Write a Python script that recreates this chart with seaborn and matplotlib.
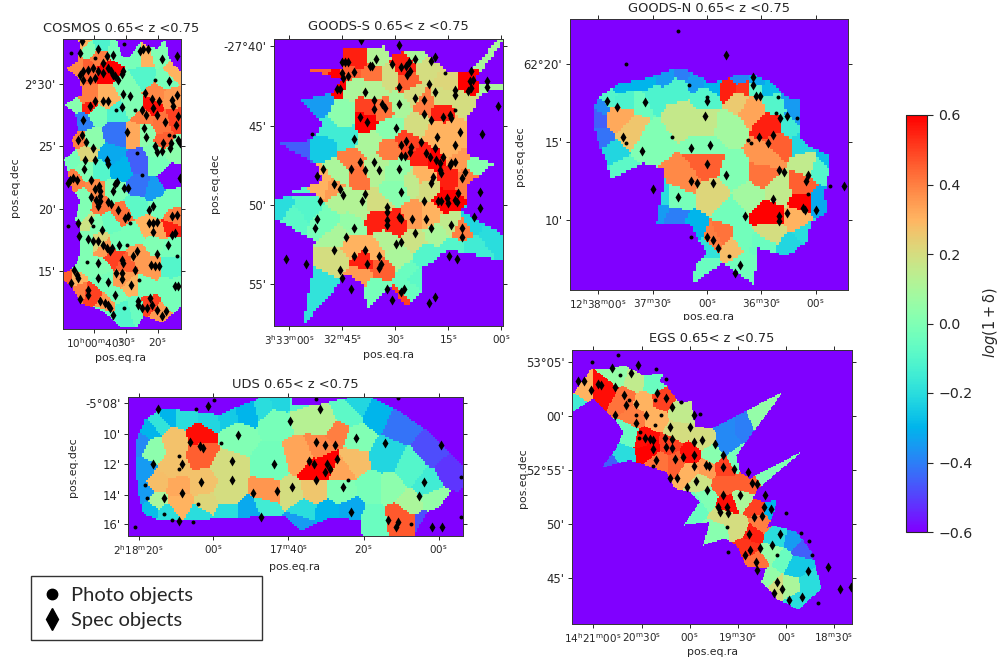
import numpy as np
import pandas as pd
import seaborn as sns
import matplotlib
matplotlib.use("Agg")
import matplotlib.pyplot as plt
from matplotlib.cm import ScalarMappable
from matplotlib.colors import Normalize
from matplotlib.lines import Line2D
from matplotlib.patches import Rectangle
from matplotlib.path import Path

# cells = (x, y, log(1+delta)), outline = edge of the covered field, outside is -0.6

cosmos_outline = [(235,118),(350,118),(365,170),(385,175),(405,150),(420,125),(470,150),(495,118),(505,165),(520,195),(543,215),(543,920),(500,960),(490,970),(430,950),(410,985),(365,985),(340,960),(300,930),(240,910),(215,860),(192,845),(192,820),(225,800),(240,760),(240,680),(225,660),(240,600),(215,570),(205,520),(192,480),(225,450),(215,420),(235,390),(225,340),(192,315),(245,285),(240,240),(200,205),(235,185),(240,140)]
cosmos_cells = [(320,210,.6),(260,210,.45),(300,170,.4),(235,210,.38),(270,145,0),(250,125,.3),(300,135,-.12),(350,150,-.02),(432,175,.3),(420,175,-.02),(430,230,-.1),(385,260,0),(480,165,0),(525,215,.3),(500,240,-.02),(265,295,.4),(320,300,.3),(270,320,.55),(220,320,.02),(350,340,-.12),(350,400,-.42),(245,365,-.4),(290,340,-.02),(400,320,0),(455,320,.58),(430,350,.4),(470,285,.38),(515,295,.35),(525,360,.5),(490,370,.42),(430,400,.03),(410,400,.32),(495,430,.45),(470,460,0),(515,445,.03),(330,470,-.32),(270,420,.03),(240,420,.4),(260,460,.22),(215,480,-.02),(300,510,-.1),(220,540,.4),(255,510,0),(420,490,-.45),(420,560,-.42),(460,570,-.35),(470,490,-.02),(510,535,-.6),(360,510,-.3),(340,570,0),(290,570,.38),(300,610,.42),(255,600,0),(240,650,0),(410,620,-.08),(480,620,-.02),(520,600,-.02),(365,645,.42),(330,670,-.05),(440,680,.3),(510,690,.55),(480,700,.33),(525,650,.4),(400,700,-.02),(290,680,0),(260,670,.18),(320,740,.35),(345,770,.5),(380,790,.45),(410,770,.35),(300,720,.22),(260,720,0),(240,800,0),(225,830,.3),(205,832,.45),(300,810,0),(350,730,-.02),(510,810,-.1),(470,730,0),(510,740,-.02),(460,810,.35),(370,840,.35),(390,860,.3),(310,840,-.02),(440,860,-.02),(500,860,-.02),(270,885,.5),(240,880,.4),(350,890,-.02),(370,930,-.1),(405,920,-.05),(320,915,.35),(450,915,.5),(480,940,.35),(310,945,-.05),(520,900,-.02),(530,860,-.02)]
cosmos_spec = [(245,125),(293,147),(338,167),(240,160),(420,155),(445,147),(428,148),(485,178),(532,170),(320,170),(310,190),(280,205),(265,210),(250,215),(240,225),(295,215),(325,205),(333,215),(345,230),(310,220),(285,235),(250,240),(370,215),(365,222),(340,225),(355,240),(270,240),(506,245),(370,283),(390,290),(434,280),(457,298),(477,305),(460,325),(438,345),(470,345),(520,320),(515,300),(530,285),(533,350),(527,375),(495,368),(285,305),(310,305),(325,305),(270,318),(250,360),(365,323),(425,330),(380,397),(432,385),(437,412),(245,407),(235,422),(258,428),(490,430),(512,430),(510,445),(465,440),(485,455),(472,458),(535,420),(540,430),(280,445),(255,480),(285,480),(320,480),(325,492),(252,508),(220,535),(210,540),(230,540),(205,550),(272,542),(297,560),(352,547),(345,552),(285,567),(300,575),(300,590),(372,565),(385,565),(338,573),(272,592),(288,600),(300,605),(295,620),(325,607),(333,612),(355,632),(460,620),(447,630),(375,655),(385,650),(272,660),(460,670),(447,670),(472,668),(458,697),(305,690),(265,717),(295,725),(310,735),(320,745),(335,745),(330,755),(358,735),(412,755),(400,770),(367,780),(370,790),(472,762),(452,795),(465,800),(478,800),(405,810),(222,812),(232,825),(235,835),(212,850),(293,790),(293,835),(325,848),(347,820),(365,820),(367,838),(392,855),(265,870),(265,885),(240,897),(345,885),(300,905),(315,910),(325,915),(330,925),(338,945),(415,905),(415,915),(425,925),(440,925),(450,895),(455,915),(470,930),(485,950),(497,935),(525,860),(535,860),(505,735),(540,535),(530,645),(515,648),(525,700),(515,705),(235,670),(238,710),(280,725)]
cosmos_photo = [(373,133),(212,160),(285,175),(465,240),(347,330),(405,330),(412,460),(425,525),(508,405),(522,410),(205,678),(280,678),(380,735),(260,788),(417,842),(372,925),(390,670),(530,770)]

goodss_outline = [(865,88),(880,88),(880,95),(800,205),(810,225),(880,225),(880,240),(840,245),(815,255),(800,270),(805,280),(770,320),(770,430),(790,440),(855,460),(790,510),(770,530),(770,590),(750,600),(880,675),(880,750),(800,735),(718,720),(690,735),(680,750),(640,770),(640,790),(630,850),(595,888),(580,880),(545,830),(470,895),(465,825),(430,800),(400,790),(380,830),(280,945),(305,800),(315,690),(192,628),(192,565),(330,555),(245,545),(335,515),(330,470),(210,400),(300,390),(345,340),(270,275),(370,250),(400,210),(285,178),(400,175),(405,115),(460,115),(525,110),(540,140),(600,120),(640,120),(665,150),(720,190),(780,190)]
goodss_cells = [(830,140,.1),(840,235,.1),(775,220,.6),(710,210,.22),(650,180,.2),(620,130,.1),(580,170,.55),(590,215,.45),(500,140,.12),(540,200,.2),(450,145,.55),(490,195,.42),(420,200,.45),(320,185,.45),(390,215,.6),(430,225,.1),(490,240,.12),(610,260,.2),(640,280,.4),(700,300,.55),(700,265,.2),(745,270,.2),(770,290,.2),(480,295,.5),(470,330,.6),(520,300,.42),(570,285,.1),(400,320,.03),(320,285,-.35),(350,360,-.15),(410,380,-.15),(340,400,-.25),(260,410,-.45),(480,400,.1),(540,350,.02),(620,340,.2),(740,360,.3),(680,370,.3),(720,420,.3),(590,400,.5),(540,420,.4),(680,450,.6),(640,440,.55),(740,450,.35),(810,465,.02),(770,510,.4),(720,500,.55),(640,500,.3),(712,575,.6),(650,530,.2),(440,490,.42),(430,450,.4),(390,490,.1),(500,470,.12),(560,480,.05),(560,540,.02),(610,520,.15),(370,530,.35),(340,520,.3),(400,570,.12),(290,590,-.1),(215,595,-.2),(250,620,-.08),(350,640,-.02),(430,640,.05),(500,590,.2),(500,625,.55),(560,640,.55),(610,620,.35),(660,620,.3),(720,640,.15),(760,660,.4),(790,640,-.22),(840,680,-.2),(800,710,-.15),(680,670,.1),(610,690,.18),(530,700,.12),(450,600,.12),(380,680,.1),(430,710,.3),(380,750,.2),(460,755,.55),(450,790,.35),(520,770,.45),(500,720,.3),(560,740,.1),(600,790,-.05),(730,720,-.1),(650,740,-.1),(340,830,-.18),(300,850,-.18),(505,840,-.02),(560,860,.5),(590,830,-.05),(610,800,-.08)]
goodss_spec = [(567,105),(453,92),(675,142),(617,148),(498,148),(665,155),(548,163),(405,158),(397,158),(415,158),(485,170),(480,170),(575,172),(597,158),(590,170),(592,195),(600,185),(432,188),(397,190),(400,205),(415,198),(785,185),(790,210),(780,215),(785,235),(775,245),(833,215),(833,232),(658,222),(567,232),(735,240),(675,248),(466,248),(380,238),(390,238),(735,255),(617,265),(643,272),(491,272),(516,282),(524,295),(567,282),(491,297),(866,290),(643,313),(665,330),(700,322),(720,315),(725,323),(450,322),(472,337),(558,355),(750,365),(817,372),(682,380),(433,388),(575,405),(590,392),(575,438),(585,438),(605,410),(600,425),(633,397),(735,405),(650,430),(660,440),(675,415),(680,450),(690,460),(700,440),(690,480),(720,465),(725,460),(735,455),(695,490),(670,500),(665,520),(767,487),(758,505),(449,455),(491,455),(423,478),(465,480),(508,480),(567,478),(340,478),(322,497),(373,521),(390,538),(398,555),(466,553),(456,572),(575,547),(643,572),(331,572),(685,572),(695,572),(712,565),(715,580),(735,570),(745,550),(742,575),(810,547),(810,595),(532,590),(532,605),(792,620),(568,622),(575,628),(532,630),(532,645),(607,628),(650,628),(322,628),(315,655),(433,655),(407,680),(617,670),(665,655),(725,645),(758,655),(758,680),(575,695),(558,702),(373,720),(466,720),(433,738),(229,745),(289,762),(508,738),(718,738),(742,745),(472,762),(512,762),(508,772),(390,778),(397,803),(423,837),(532,837),(584,835),(575,845),(548,868),(675,860),(658,878)]
goodss_photo = [(305,372),(707,190),(735,300)]

goodsn_outline = [(250,340),(260,300),(330,250),(400,240),(500,205),(540,215),(600,250),(650,240),(680,225),(730,225),(780,245),(830,290),(870,300),(870,410),(900,440),(960,470),(960,500),(945,580),(950,640),(900,670),(895,725),(830,770),(745,745),(735,855),(640,790),(545,855),(560,790),(590,760),(540,670),(440,670),(460,560),(465,510),(400,490),(300,540),(295,490),(270,440),(250,370)]
goodsn_cells = [(330,350,.32),(370,390,.26),(300,290,-.1),(420,420,.0),(400,300,-.05),(590,370,.16),(520,350,.16),(650,380,.08),(590,440,.0),(690,300,.25),(700,265,.52),(655,265,.55),(725,320,.33),(790,375,.55),(810,430,.45),(770,470,.36),(760,525,.42),(590,490,.45),(520,540,.38),(610,590,.22),(680,520,.0),(660,640,-.03),(690,720,-.03),(720,590,.08),(810,570,.15),(880,610,.6),(875,560,.45),(895,490,.15),(870,650,.3),(775,645,.6),(780,700,.2),(920,610,-.32),(640,705,.42),(610,720,.4),(670,735,.28),(585,810,-.05),(710,800,-.03),(500,590,-.02),
                (270,320,-.38),(255,350,-.45),(262,420,-.42),(330,262,-.3),(400,252,-.3),(470,225,-.35),(520,215,-.4),(560,240,-.35),(610,255,-.3),(690,235,-.38),(740,240,-.32),(790,260,-.28),(840,300,-.35),(866,350,-.35),(880,430,-.22),(950,480,-.28),(340,300,-.12),(420,290,-.12),(500,265,-.12),(590,290,-.1),(730,265,-.08),(800,310,-.1),(840,380,-.15),(295,470,-.22),(280,520,-.15),(320,520,-.08),(490,660,-.4),(450,640,-.35),(450,590,-.2),(550,690,-.3),(585,745,-.18),(900,700,-.2),(840,750,-.22),(760,735,-.05),(930,500,-.1)]
goodsn_spec = [(650,167),(731,233),(731,257),(292,305),(323,323),(405,308),(592,305),(586,348),(740,290),(750,290),(812,356),(831,348),(789,405),(749,412),(774,430),(341,412),(398,453),(544,444),(601,436),(592,492),(650,526),(544,544),(562,550),(610,550),(807,510),(822,517),(895,526),(888,544),(789,598),(1002,559),(431,568),(504,592),(920,631),(880,625),(885,632),(831,640),(707,649),(807,650),(807,665),(592,713),(610,722),(626,745),(692,795),(675,819)]
goodsn_photo = [(504,95),(350,193),(538,257),(592,291),(805,291),(798,340),(862,356),(486,411),(350,429),(716,420),(725,429),(962,559),(895,583),(544,713),(659,770)]

uds_outline = [(228,300),(225,220),(255,150),(310,115),(480,135),(510,120),(590,90),(600,82),(695,82),(700,105),(770,105),(870,82),(930,82),(1010,120),(1110,190),(1208,290),(1208,350),(1150,405),(1100,425),(1060,497),(905,497),(900,450),(860,445),(800,445),(720,482),(680,440),(600,435),(540,445),(480,445),(300,450),(250,430),(235,370)]
uds_cells = [(420,195,.58),(425,250,.45),(345,220,.27),(340,290,.27),(350,350,.32),(295,340,.28),(290,390,.1),(360,400,.3),(430,340,.27),(500,290,.2),(500,370,.2),(440,400,.22),(280,240,.03),(530,200,.0),(650,150,-.02),(730,130,.13),(790,160,.13),(780,235,.38),(800,280,.6),(760,300,.6),(830,190,.4),(720,260,.33),(840,300,.33),(880,270,.28),(640,280,-.03),(630,370,.36),(690,370,.2),(760,360,.26),(840,360,.0),(890,210,.0),(860,130,-.08),(1020,440,.46),(1050,400,.1),(990,350,.03),(935,350,-.02),(1120,390,.05),(1040,460,.46),(975,260,-.22),(1050,300,-.1),(1100,340,-.15),(935,450,-.05),
             (245,300,-.35),(240,220,-.38),(265,175,-.3),(290,155,-.18),(320,130,-.3),(380,135,-.2),(450,145,-.22),(500,135,-.25),(560,120,-.3),(610,105,-.2),(660,95,-.22),(720,100,-.1),(890,100,-.22),(950,130,-.3),(1020,160,-.42),(1120,240,-.48),(1170,300,-.52),(255,370,-.35),(270,420,-.28),(320,430,-.2),(420,435,-.2),(500,430,-.2),(570,430,-.32),(620,410,-.15),(720,455,-.35),(730,425,-.2),(800,430,-.3),(870,425,-.32),(1090,460,-.48),(1160,420,-.6)]
uds_spec = [(295,117),(445,110),(778,117),(690,155),(533,195),(887,203),(389,217),(768,217),(793,225),(823,225),(975,218),(1143,226),(420,228),(428,235),(280,281),(366,281),(515,273),(641,281),(745,273),(760,281),(830,266),(800,281),(808,297),(793,305),(768,329),(515,329),(422,337),(1091,337),(848,352),(366,369),(578,369),(651,362),(697,352),(311,385),(1076,377),(872,425),(604,440),(983,448),(1013,456),(1006,470),(1116,470),(1146,470),(358,452)]
uds_photo = [(768,87),(462,90),(407,117),(1013,84),(484,218),(358,258),(358,298),(255,344),(262,384),(414,400),(311,432),(336,448),(400,455),(224,470),(864,329),(1053,462),(1202,322),(1202,440)]

egs_outline = [(187,210),(245,130),(300,130),(345,120),(400,150),(460,145),(450,170),(470,180),(510,235),(545,225),(555,305),(607,310),(820,198),(680,390),(690,440),(720,460),(878,378),(745,490),(730,520),(760,530),(800,525),(790,570),(770,610),(790,600),(860,620),(905,680),(935,790),(865,855),(830,835),(805,825),(755,770),(770,730),(710,725),(680,660),(645,640),(580,660),(600,590),(522,600),(570,530),(540,500),(495,490),(470,440),(360,405),(275,428),(320,370),(340,320),(320,290),(250,220),(187,260)]
egs_cells = [(190,230,-.15),(215,190,.3),(290,190,.58),(320,150,.05),(375,165,.15),(430,170,-.05),(345,220,.42),(400,235,.3),(460,225,.5),(510,260,.15),(440,280,.3),(380,270,.4),(350,330,-.05),(330,385,-.2),(300,410,-.45),(420,370,.6),(410,345,.58),(480,360,.5),(540,390,.58),(500,410,.45),(450,410,.42),(500,320,.2),(580,340,.2),(650,300,-.38),(700,300,-.4),(745,280,.05),(650,360,-.38),(610,390,.02),(640,425,.5),(680,400,-.02),(640,480,.45),(590,430,.35),(540,440,.3),(570,470,.18),(560,540,-.05),(590,520,0),(650,540,.58),(640,570,.2),(700,520,.1),(740,550,.5),(710,480,.45),(770,440,0),(790,555,-.3),(750,590,.4),(725,625,.55),(690,610,.2),(620,620,.02),(800,640,-.2),(850,650,-.35),(710,665,.52),(740,715,.42),(790,680,.05),(770,760,.05),(860,720,-.25),(900,780,-.2),(840,790,.1),(860,830,-.2),(800,790,.2),(870,670,-.45),(820,700,-.05)]
egs_spec = [(386,120),(308,128),(365,143),(205,168),(222,168),(265,175),(275,180),(315,185),(245,195),(342,208),(441,202),(470,218),(348,240),(380,235),(487,245),(409,270),(315,270),(552,270),(380,294),(481,305),(542,305),(405,338),(430,345),(420,340),(466,338),(487,340),(470,365),(487,368),(430,370),(552,350),(577,344),(614,356),(640,390),(552,388),(520,395),(497,400),(440,405),(552,422),(588,418),(598,422),(640,425),(671,430),(481,458),(503,458),(714,440),(560,468),(725,472),(740,475),(532,484),(592,495),(640,510),(689,510),(765,510),(625,545),(630,560),(650,545),(653,565),(762,545),(783,553),(732,576),(755,572),(811,628),(718,628),(787,661),(721,675),(750,668),(704,690),(739,712),(740,736),(895,737),(955,725),(800,770),(793,803),(815,793),(838,825),(877,815),(991,793),(1023,787)]
egs_photo = [(325,88),(248,110),(440,130),(470,160),(515,230),(436,225),(358,225),(380,270),(455,270),(570,265),(436,298),(392,320),(388,338),(330,150),(827,565),(650,605),(800,690),(654,680),(872,623),(898,647),(905,690),(923,833),(431,422)]

# tick positions and labels per panel
cosmos_xt = [283,378,473]
cosmos_xl = [r"$10^{h}00^{m}40^{s}$", r"$30^{s}$", r"$20^{s}$"]
cosmos_yt = [253,440,628,815]
cosmos_yl = ["2°30'", "25'", "20'", "15'"]
goodss_xt = [238,397,556,716,875]
goodss_xl = [r"$3^{h}33^{m}00^{s}$", r"$32^{m}45^{s}$", r"$30^{s}$", r"$15^{s}$", r"$00^{s}$"]
goodss_yt = [110,348,585,822]
goodss_yl = ["-27°40'", "45'", "50'", "55'"]
goodsn_xt = [265,430,592,755,918]
goodsn_xl = [r"$12^{h}38^{m}00^{s}$", r"$37^{m}30^{s}$", r"$00^{s}$", r"$36^{m}30^{s}$", r"$00^{s}$"]
goodsn_yt = [192,426,660]
goodsn_yl = ["62°20'", "15'", "10'"]
uds_xt = [236,460,685,910,1135]
uds_xl = [r"$2^{h}18^{m}20^{s}$", r"$00^{s}$", r"$17^{m}40^{s}$", r"$20^{s}$", r"$00^{s}$"]
uds_yt = [100,192,283,374,462]
uds_yl = ["-5°08'", "10'", "12'", "14'", "16'"]
egs_xt = [250,397,540,684,828,972]
egs_xl = [r"$14^{h}21^{m}00^{s}$", r"$20^{m}30^{s}$", r"$00^{s}$", r"$19^{m}30^{s}$", r"$00^{s}$", r"$18^{m}30^{s}$"]
egs_yt = [110,272,434,596,758]
egs_yl = ["53°05'", "00'", "52°55'", "50'", "45'"]

cbar_ticks = [-0.6,-0.4,-0.2,0.0,0.2,0.4,0.6]

W, H = 1002, 664
sns.set_style("ticks")
plt.rcParams["font.family"] = ["DejaVu Sans"]
plt.rcParams["mathtext.default"] = "regular"
plt.rcParams["text.color"] = "#262626"
plt.rcParams["axes.labelcolor"] = "#262626"
plt.rcParams["xtick.labelcolor"] = "#262626"
plt.rcParams["ytick.labelcolor"] = "#262626"

fig = plt.figure(figsize=(W / 100, H / 100), dpi=100)


def add_panel(name, box, lims, cell, outline, cells, spec, photo, xt, xl, yt, yl, title_xy, xlab_xy, ylab_xy):
    left, top, right, bottom = box
    ax = fig.add_axes([left / W, 1 - bottom / H, (right - left) / W, (bottom - top) / H])
    x0, x1, y0, y1 = lims
    nx = int(round((x1 - x0) / cell))
    ny = int(round((y1 - y0) / cell))
    sx = nx / (x1 - x0)
    sy = ny / (y1 - y0)

    # nearest cell wins inside the field, everything else is empty
    gx, gy = np.meshgrid(x0 + (np.arange(nx) + 0.5) / sx, y0 + (np.arange(ny) + 0.5) / sy)
    c = np.array(cells)
    d = (gx[..., None] - c[:, 0]) ** 2 + (gy[..., None] - c[:, 1]) ** 2
    vals = c[:, 2][d.argmin(axis=2)]
    inside = Path(outline).contains_points(np.c_[gx.ravel(), gy.ravel()]).reshape(gx.shape)
    grid = np.where(inside, vals, -0.6)

    sns.heatmap(grid, cmap="rainbow", vmin=-0.6, vmax=0.6, cbar=False, xticklabels=False, yticklabels=False, ax=ax)

    sp = pd.DataFrame(spec, columns=["x", "y"])
    ph = pd.DataFrame(photo, columns=["x", "y"])
    sns.scatterplot(x=(sp["x"] - x0) * sx, y=(sp["y"] - y0) * sy, marker="d", color="black", s=26, linewidth=0, ax=ax)
    sns.scatterplot(x=(ph["x"] - x0) * sx, y=(ph["y"] - y0) * sy, marker="o", color="black", s=8, linewidth=0, ax=ax)

    ax.set_xlim(0, nx)
    ax.set_ylim(ny, 0)
    ax.set_xticks([(t - x0) * sx for t in xt], xl)
    ax.set_yticks([(t - y0) * sy for t in yt], yl, rotation=0)
    ax.tick_params(axis="x", labelsize=7.5, length=3, width=0.7, top=True, direction="out", pad=2.5)
    ax.tick_params(axis="y", labelsize=8.4, length=3, width=0.7, right=True, direction="out", pad=2.5)
    for s in ax.spines.values():
        s.set_visible(True)
        s.set_linewidth(0.7)
        s.set_color("#333333")

    def frac(p):
        return (p[0] - left) / (right - left), (bottom - p[1]) / (bottom - top)

    # scatterplot hides the labels when the ticks had none yet, so switch them back on
    ax.set_xlabel("pos.eq.ra", fontsize=7.8, visible=True)
    ax.set_ylabel("pos.eq.dec", fontsize=7.8, visible=True)
    ax.xaxis.set_label_coords(*frac(xlab_xy))
    ax.yaxis.set_label_coords(*frac(ylab_xy))
    ax.xaxis.label.set_verticalalignment("center")
    ax.yaxis.label.set_verticalalignment("center")
    fig.text(title_xy[0] / W, 1 - title_xy[1] / H, name + " 0.65< z <0.75", fontsize=9.35, ha="center", va="center")
    return ax


add_panel("COSMOS", (63.5, 39, 181, 329), (190, 543, 118, 988), 5, cosmos_outline, cosmos_cells, cosmos_spec, cosmos_photo,
          cosmos_xt, cosmos_xl, cosmos_yt, cosmos_yl, (121, 28), (121, 358), (15, 187))
add_panel("GOODS-S", (274, 39, 503, 326), (192, 880, 88, 947), 9, goodss_outline, goodss_cells, goodss_spec, goodss_photo,
          goodss_xt, goodss_xl, goodss_yt, goodss_yl, (388, 27), (388, 355), (215, 183))
add_panel("GOODS-N", (570, 19, 848, 290), (181, 1015, 58, 871), 8, goodsn_outline, goodsn_cells, goodsn_spec, goodsn_photo,
          goodsn_xt, goodsn_xl, goodsn_yt, goodsn_yl, (709, 8), (708, 317), (520, 156))
add_panel("UDS", (128, 397, 463, 536), (204, 1208, 82, 497), 6, uds_outline, uds_cells, uds_spec, uds_photo,
          uds_xt, uds_xl, uds_yt, uds_yl, (295, 384), (295, 567), (73, 467))
add_panel("EGS", (572, 350, 852, 624), (187, 1026, 74, 897), 4, egs_outline, egs_cells, egs_spec, egs_photo,
          egs_xt, egs_xl, egs_yt, egs_yl, (712, 338), (712, 652), (523, 478))

# the GOODS-N ra label is cut off by the panel pasted under it
fig.add_artist(Rectangle((680 / W, 1 - 329 / H), 60 / W, 9.5 / H, transform=fig.transFigure, facecolor="white", edgecolor="none", zorder=5))

cax = fig.add_axes([906 / W, 1 - 532 / H, 21 / W, 417 / H])
cb = fig.colorbar(ScalarMappable(norm=Normalize(-0.6, 0.6), cmap="rainbow"), cax=cax, ticks=cbar_ticks)
cb.ax.tick_params(labelsize=10.2, length=4, width=0.8, pad=4)
cb.outline.set_linewidth(0.8)
cb.ax.set_yticklabels([f"{t:.1f}".replace("-", "\u2212") for t in cbar_ticks])
cb.set_label(r"$\mathit{log}(1+\delta)$", fontsize=10.5)
cb.ax.yaxis.set_label_coords((990 - 906) / 21, (532 - 323) / 417)
cb.ax.yaxis.label.set_verticalalignment("center")

# legend box
fig.add_artist(Rectangle((31 / W, 1 - 640 / H), 231 / W, 64 / H, transform=fig.transFigure, facecolor="white", edgecolor="#333333", linewidth=1))
handles = [
    Line2D([], [], linestyle="", marker="o", color="black", markersize=7.5),
    Line2D([], [], linestyle="", marker="d", color="black", markersize=11),
]
fig.legend(handles, ["Photo objects", "Spec objects"], loc="center left", bbox_to_anchor=(36 / W, 1 - 608 / H), frameon=False,
           prop={"family": "Lato", "size": 14.5}, handletextpad=0.15, labelspacing=0.38, borderpad=0, borderaxespad=0, handlelength=1.6)

fig.savefig("out.png", dpi=100)
